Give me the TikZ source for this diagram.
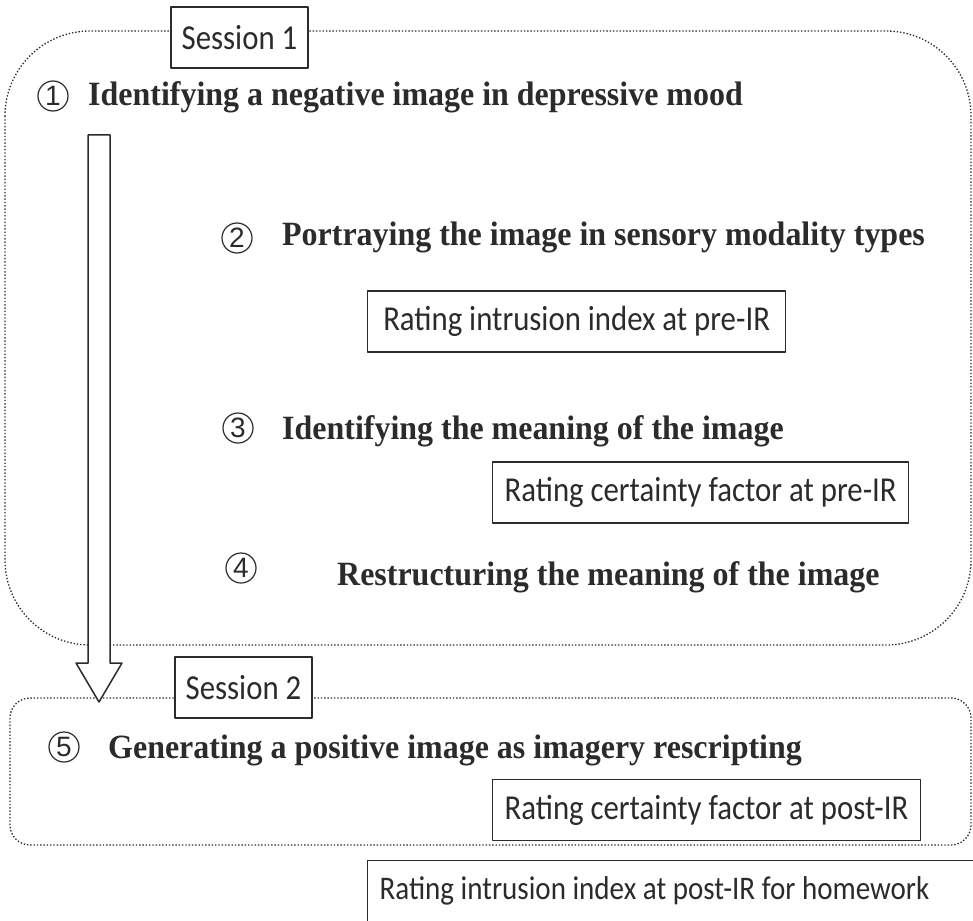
\documentclass[tikz,border=0pt]{standalone}
\usepackage{fontspec}
\usetikzlibrary{calc}
\newfontfamily\stepfont[FakeStretch=0.94]{Liberation Serif}
\newfontfamily\ratefont[FakeStretch=0.88]{Carlito}
\newfontfamily\digitfont{Liberation Sans}
\definecolor{inkgray}{HTML}{2B2B2B}
\begin{document}
\begin{tikzpicture}[x=1pt, y=-1pt, line join=round,
  sessline/.style={inkgray, line width=1.3pt, dash pattern=on 1.4pt off 1.9pt},
  ratebox/.style={draw=inkgray, line width=1.3pt, fill=white, text=inkgray, inner xsep=12pt, minimum height=61pt, font=\ratefont\fontsize{35}{40}\selectfont},
  steptext/.style={anchor=base west, inner sep=0pt, text=inkgray, font=\stepfont\bfseries\fontsize{34}{40}\selectfont},
  stepnum/.style={circle, draw=inkgray, line width=1.2pt, inner sep=0pt, minimum size=30pt, text=inkgray, font=\digitfont\fontsize{28}{28}\selectfont}]
\useasboundingbox (0,0) rectangle (973,920);
\clip (0,0) rectangle (973,920);
% Session frames
\draw[sessline, rounded corners=85pt] (5,31) rectangle (971,645);
\draw[sessline, rounded corners=20pt] (10,698) rectangle (971,845);
% Flow arrow
\coordinate (flowtop) at (99,135);
\coordinate (flowtip) at (99,702);
\draw[inkgray, line width=1.5pt, fill=white] ($(flowtop)+(-11,0)$) -- ($(flowtop)+(11,0)$) -- ($(flowtip)+(11,-39)$) -- ($(flowtip)+(23,-39)$) -- (flowtip) -- ($(flowtip)+(-23,-39)$) -- ($(flowtip)+(-11,-39)$) -- cycle;
% Session labels
\node[ratebox, inner xsep=0pt, minimum width=137pt] (sess1) at (239.5,37.5) {Session 1};
\node[ratebox, inner xsep=0pt, minimum width=137pt] (sess2) at (243.5,687.5) {Session 2};
% Steps
\foreach \n/\cx/\cy/\tx/\ty/\txt in {1/53/96/88/106/Identifying a negative image in depressive mood,
  2/237/238/282/245/Portraying the image in sensory modality types,
  3/238/428/282/439/Identifying the meaning of the image,
  4/241/568/337/585/Restructuring the meaning of the image,
  5/64/747/108/758/Generating a positive image as imagery rescripting} {
  \node[stepnum] (num\n) at (\cx,\cy) {\n};
  \node[steptext] (step\n) at (\tx,\ty) {\txt};
}
% Ratings
\node[ratebox, anchor=west, minimum width=418pt] (intrpre) at (367,321.5) {Rating intrusion index at pre-IR};
\node[ratebox, anchor=west, minimum width=396pt] (certpre) at (492,492.5) {Rating certainty factor at pre-IR};
\node[ratebox, anchor=west, minimum width=408pt] (certpost) at (492,810) {Rating certainty factor at post-IR};
\node[ratebox, anchor=north west, text width=676pt, align=flush left, font=\ratefont\fontsize{33}{40}\selectfont] (intrpost) at (367,860) {Rating intrusion index at post-IR for homework};
\end{tikzpicture}
\end{document}
